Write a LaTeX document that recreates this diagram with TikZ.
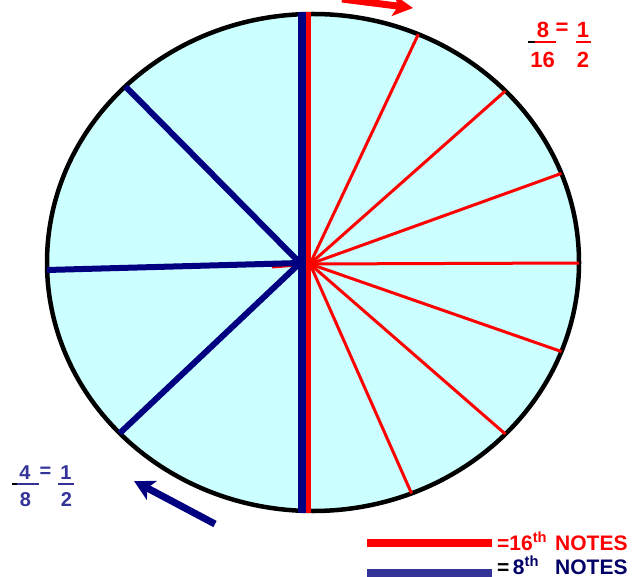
\documentclass[tikz,border=0pt]{standalone}
\usepackage{fontspec}
\setmainfont{Liberation Sans}
\usetikzlibrary{arrows.meta,calc}
\definecolor{fillc}{RGB}{204,255,255}
\definecolor{navyc}{RGB}{0,0,128}
\definecolor{fracblue}{RGB}{51,51,153}
\definecolor{redc}{RGB}{255,0,0}
\definecolor{legblue}{RGB}{51,51,153}
\definecolor{textnavy}{RGB}{0,0,102}
\tikzset{
  redline/.style={redc, line width=3pt},
  blueline/.style={navyc, line width=6pt},
  fracred/.style={text=redc, font=\bfseries\fontsize{22}{22}\selectfont, inner sep=0pt},
  fracblu/.style={text=fracblue, font=\bfseries\fontsize{20}{20}\selectfont, inner sep=0pt},
  legtext/.style={font=\bfseries\fontsize{21}{21}\selectfont, inner sep=0pt, anchor=base west},
  bigarrow/.style={line width=7pt, -{Stealth[length=20pt,width=21pt,inset=5pt]}}
}
\begin{document}
\begin{tikzpicture}[x=1pt,y=-1pt]
\useasboundingbox (0,0) rectangle (642,577);
\coordinate (O) at (313,262.5);
\coordinate (cb) at (300,263);
\coordinate (cr) at (310,264);
% fill and outline
\fill[fillc] (O) ellipse [x radius=266pt, y radius=248.5pt];
\draw[black, line width=4.5pt] (O) ellipse [x radius=266pt, y radius=248.5pt];
% red end points
\coordinate (r1) at (418,35);
\coordinate (r2) at (503,93);
\coordinate (r3) at (557,175);
\coordinate (r4) at (580,263);
\coordinate (r5) at (557,350);
\coordinate (r6) at (503,432);
\coordinate (r7) at (410,490);
\coordinate (rt) at (308.5,5);
\coordinate (rb) at (308.5,520);
% blue end points
\coordinate (b1) at (126,87);
\coordinate (b2) at (47,270);
\coordinate (b3) at (121,432);
\coordinate (bt) at (302,5);
\coordinate (bb) at (302,520);
\begin{scope}
  \clip (O) ellipse [x radius=266pt, y radius=248.5pt];
  \foreach \p in {r1,r2,r3,r4,r5,r6,r7}
    \draw[redline] (cr) -- ($(cr)!1.1!(\p)$);
  \draw[redline] (cr) -- (272,267);
\end{scope}
\begin{scope}
  \clip (O) ellipse [x radius=268pt, y radius=250.5pt];
  \draw[redc, line width=5pt] (rt) -- (rb);
  \draw[navyc, line width=8pt] (bt) -- (bb);
\end{scope}
\begin{scope}
  \clip (O) ellipse [x radius=266pt, y radius=248.5pt];
  \foreach \p in {b1,b2,b3}
    \draw[blueline] (cb) -- ($(cb)!1.05!(\p)$);
\end{scope}
% arrows
\coordinate (ra1) at (342,-1);
\coordinate (ra2) at (413,8);
\draw[redc, bigarrow] (ra1) -- (ra2);
\coordinate (ba1) at (215,524);
\coordinate (ba2) at (134,481);
\draw[navyc, bigarrow] (ba1) -- (ba2);
% red fraction
\node[fracred] (f8) at (543,29.5) {8};
\node[fracred] (f16) at (542.5,60) {16};
\node[fracred] (feq) at (562,29) {=};
\node[fracred] (f1) at (583,29.5) {1};
\node[fracred] (f2) at (583,60) {2};
\draw[black, line width=2.5pt] (528,42) -- (535,42);
\draw[redc, line width=2.5pt] (535,42) -- (556,42);
\draw[redc, line width=2.5pt] (576,42) -- (591,42);
% blue fraction
\node[fracblu] (g4) at (25,473) {4};
\node[fracblu] (g8) at (25.5,500) {8};
\node[fracblu] (geq) at (45.5,472) {=};
\node[fracblu] (g1) at (66,473) {1};
\node[fracblu] (g2) at (66.5,500) {2};
\draw[black, line width=2.5pt] (12,484) -- (17,484);
\draw[fracblue, line width=2.5pt] (17,484) -- (39,484);
\draw[fracblue, line width=2.5pt] (58,484) -- (74,484);
% legend
\coordinate (l1a) at (367,543);
\coordinate (l1b) at (492,543);
\draw[redc, line width=8pt] (l1a) -- (l1b);
\coordinate (l2a) at (367,573);
\coordinate (l2b) at (492,573);
\draw[legblue, line width=9pt] (l2a) -- (l2b);
\node[legtext, text=redc] (t1) at (497,550) {=16\textsuperscript{th}};
\node[legtext, text=redc] (t1n) at (555,550) {NOTES};
\node[legtext] (t2) at (497,574) {=\,\textcolor{textnavy}{ 8\textsuperscript{th}}};
\node[legtext, text=textnavy] (t2n) at (555,574) {NOTES};
\end{tikzpicture}
\end{document}
